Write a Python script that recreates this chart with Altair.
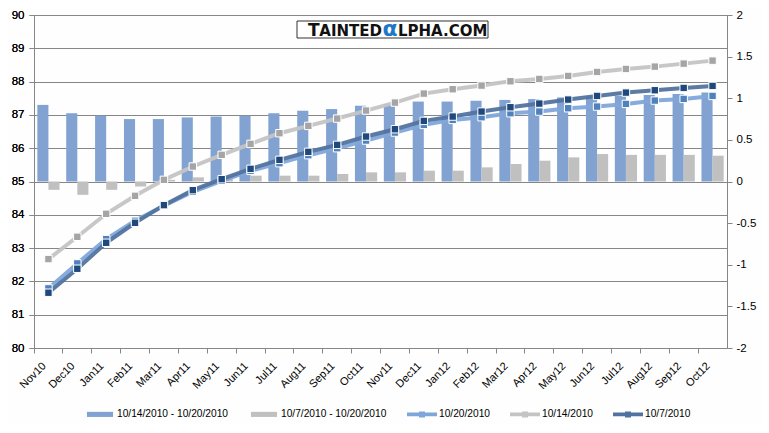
import altair as alt
import pandas as pd

months = ["Nov10", "Dec10", "Jan11", "Feb11", "Mar11", "Apr11", "May11", "Jun11",
          "Jul11", "Aug11", "Sep11", "Oct11", "Nov11", "Dec11", "Jan12", "Feb12",
          "Mar12", "Apr12", "May12", "Jun12", "Jul12", "Aug12", "Sep12", "Oct12"]

bar_series = ["10/14/2010 - 10/20/2010", "10/7/2010 - 10/20/2010"]
line_series = ["10/20/2010", "10/14/2010", "10/7/2010"]

diff_14_20 = [0.92, 0.82, 0.79, 0.75, 0.75, 0.77, 0.78, 0.79, 0.82, 0.85, 0.87, 0.91,
              0.93, 0.96, 0.96, 0.97, 0.98, 0.99, 1.01, 1.02, 1.03, 1.04, 1.05, 1.07]
diff_7_20 = [-0.10, -0.16, -0.10, -0.06, 0.02, 0.05, 0.05, 0.07, 0.07, 0.07, 0.09, 0.11,
             0.11, 0.13, 0.13, 0.17, 0.21, 0.25, 0.29, 0.33, 0.32, 0.32, 0.32, 0.31]

curve_20 = [81.79, 82.54, 83.27, 83.82, 84.27, 84.69, 85.02, 85.32, 85.55, 85.79, 86.00, 86.23,
            86.47, 86.70, 86.85, 86.93, 87.05, 87.10, 87.20, 87.25, 87.33, 87.43, 87.48, 87.57]
curve_14 = [82.67, 83.34, 84.03, 84.57, 85.05, 85.45, 85.80, 86.13, 86.45, 86.67, 86.89, 87.13,
            87.37, 87.64, 87.77, 87.88, 88.01, 88.08, 88.17, 88.29, 88.38, 88.45, 88.54, 88.63]
curve_7 = [81.66, 82.38, 83.16, 83.76, 84.29, 84.74, 85.07, 85.38, 85.65, 85.89, 86.10, 86.35,
           86.57, 86.82, 86.95, 87.10, 87.23, 87.34, 87.46, 87.57, 87.67, 87.74, 87.81, 87.87]

left_ticks = list(range(80, 91))
right_ticks = [-2, -1.5, -1, -0.5, 0, 0.5, 1, 1.5, 2]

all_series = bar_series + line_series
legend_colors = ["#82A3D2", "#C0C0C0", "#7FA6DA", "#C4C4C4", "#52739F"]
# fill scale for bars and markers (listed in a different order so it stays a separate legend group)
fill_domain = line_series + bar_series
fill_colors = ["#4F81BD", "#A5A5A5", "#1F497D", "#82A3D2", "#C0C0C0"]
line_colors = ["#7FA6DA", "#C4C4C4", "#52739F"]
legend_paths = [
    "M-0.87,-0.17H0.87V0.17H-0.87Z",
    "M-0.87,-0.17H0.87V0.17H-0.87Z",
    "M-1,-0.13H-0.2V-0.2H0.2V-0.13H1V0.13H0.2V0.2H-0.2V0.13H-1Z",
    "M-1,-0.13H-0.2V-0.2H0.2V-0.13H1V0.13H0.2V0.2H-0.2V0.13H-1Z",
    "M-1,-0.13H-0.2V-0.2H0.2V-0.13H1V0.13H0.2V0.2H-0.2V0.13H-1Z",
]

bars_df = pd.DataFrame({
    "month": months * 2,
    "series": [bar_series[0]] * len(months) + [bar_series[1]] * len(months),
    "value": diff_14_20 + diff_7_20,
})
lines_df = pd.DataFrame({
    "month": months * 3,
    "series": sum([[s] * len(months) for s in line_series], []),
    "value": curve_20 + curve_14 + curve_7,
})
legend_df = pd.DataFrame({"series": all_series})
wm_df = pd.DataFrame({"a": [0]})

FONT = "Liberation Sans"
AXIS_COLOR = "#868686"

x_enc = alt.X(
    "month:N", sort=months,
    scale=alt.Scale(paddingInner=0, paddingOuter=0),
    axis=alt.Axis(title=None, bandPosition=0, labelAngle=-45, labelAlign="right",
                  labelBaseline="middle", labelOffset=-4, labelPadding=11, tickSize=5,
                  labelFontSize=11, domainColor=AXIS_COLOR, tickColor=AXIS_COLOR),
)

fill_scale = alt.Scale(domain=fill_domain, range=fill_colors)

bars = alt.Chart(bars_df).mark_bar().encode(
    x=x_enc,
    xOffset=alt.XOffset("series:N", sort=bar_series,
                        scale=alt.Scale(paddingInner=0, paddingOuter=0.3)),
    y=alt.Y("value:Q", scale=alt.Scale(domain=[-2, 2], nice=False),
            axis=alt.Axis(orient="right", values=right_ticks, grid=False, title=None,
                          labelExpr="'' + datum.value", tickSize=5, labelPadding=4,
                          labelFontSize=11.5, domainColor=AXIS_COLOR, tickColor=AXIS_COLOR)),
    fill=alt.Fill("series:N", scale=fill_scale, legend=None),
)

y_left = alt.Y("value:Q", scale=alt.Scale(domain=[80, 90], nice=False, zero=False),
               axis=alt.Axis(orient="left", values=left_ticks, grid=True, title=None,
                             tickSize=5, labelPadding=5, labelFontSize=11.5,
                             gridColor=AXIS_COLOR, gridOpacity=1, domainColor=AXIS_COLOR,
                             tickColor=AXIS_COLOR))

lines = alt.Chart(lines_df).mark_line(strokeWidth=4, strokeOpacity=0.95).encode(
    x=x_enc,
    y=y_left,
    stroke=alt.Stroke("series:N", scale=alt.Scale(domain=line_series, range=line_colors),
                      legend=None),
    detail="series:N",
)

markers = alt.Chart(lines_df).mark_point(shape="square", filled=True, size=55, opacity=1,
                                         stroke="white", strokeWidth=1).encode(
    x=x_enc,
    y=y_left,
    fill=alt.Fill("series:N", scale=fill_scale, legend=None),
)

leg = alt.Legend(title=None, orient="none", legendX=51, legendY=384, direction="horizontal",
                 columns=5, symbolSize=900, symbolOpacity=1, symbolStrokeWidth=0,
                 labelFont=FONT, labelFontSize=10.2, labelColor="#000000", labelOffset=2,
                 columnPadding=20, padding=0)

legend_layer = alt.Chart(legend_df).mark_point(filled=True, opacity=0).encode(
    color=alt.Color("series:N", scale=alt.Scale(domain=all_series, range=legend_colors), legend=leg),
    shape=alt.Shape("series:N", scale=alt.Scale(domain=all_series, range=legend_paths), legend=leg),
)

wm_box = alt.Chart(wm_df).mark_rect(fill="white", stroke="#333333", strokeWidth=1).encode(
    x=alt.value(263), x2=alt.value(454), y=alt.value(6), y2=alt.value(23))
wm_t0 = alt.Chart(wm_df).mark_text(text="T", font="DejaVu Sans", fontSize=17,
                                   fontWeight="bold", align="right", baseline="alphabetic",
                                   color="#111111").encode(x=alt.value(285.5), y=alt.value(20.5))
wm_t1 = alt.Chart(wm_df).mark_text(text="AINTED", font="DejaVu Sans", fontSize=15,
                                   fontWeight="bold", align="right", baseline="alphabetic",
                                   color="#111111").encode(x=alt.value(348), y=alt.value(20.5))
wm_t2 = alt.Chart(wm_df).mark_text(text="α", font="DejaVu Sans", fontSize=22,
                                   fontWeight="bold", align="center", baseline="alphabetic",
                                   color="#1E78C8").encode(x=alt.value(356), y=alt.value(21))
wm_t3 = alt.Chart(wm_df).mark_text(text="LPHA.COM", font="DejaVu Sans", fontSize=15,
                                   fontWeight="bold", align="left", baseline="alphabetic",
                                   color="#111111").encode(x=alt.value(364), y=alt.value(20.5))

chart = alt.layer(
    bars, lines, markers, legend_layer, wm_box, wm_t0, wm_t1, wm_t2, wm_t3
).resolve_scale(y="independent").properties(
    width=693, height=333,
    autosize=alt.AutoSizeParams(type="none"),
    padding={"left": 26, "top": 7, "right": 34, "bottom": 77},
).configure_view(stroke=None).configure_axis(
    labelFont=FONT, labelColor="#000000"
).configure(background="#FDFEFD")

chart.save("out.html", embed_options={"renderer": "svg", "actions": False})
